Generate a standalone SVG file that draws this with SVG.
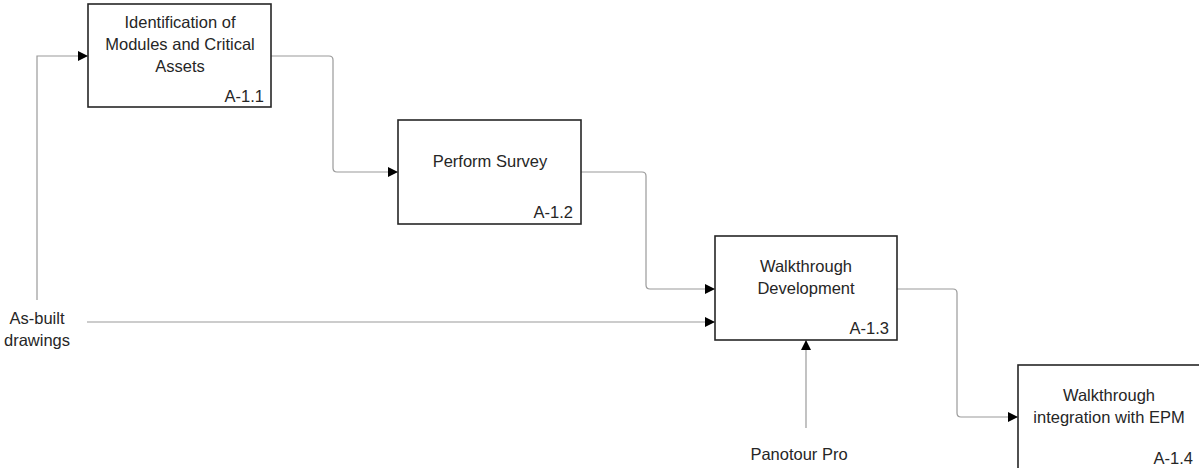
<svg xmlns="http://www.w3.org/2000/svg" width="1199" height="468" viewBox="0 0 1199 468">
<style>
.box{fill:#fff;stroke:#262626;stroke-width:1.6}
.t{font-family:"Liberation Sans",Arial,sans-serif;font-size:16.5px;fill:#262626;text-anchor:middle}
.id{font-family:"Liberation Sans",Arial,sans-serif;font-size:16.5px;fill:#262626;text-anchor:end}
.c{fill:none;stroke:#9a9a9a;stroke-width:1.2}
</style>
<defs>
<marker id="ah" viewBox="0 0 10 10" refX="10" refY="5" markerWidth="10" markerHeight="10" markerUnits="userSpaceOnUse" orient="auto">
<path d="M0,0 L10,5 L0,10 Z" fill="#000"/>
</marker>
</defs>
<rect width="1199" height="468" fill="#fff"/>
<g id="connectors">
<path class="c" d="M37,300 V56 H88" marker-end="url(#ah)"/>
<path class="c" d="M271,56 H329 Q333,56 333,60 V168 Q333,172 337,172 H398" marker-end="url(#ah)"/>
<path class="c" d="M581,172 H642 Q646,172 646,176 V285 Q646,289 650,289 H715" marker-end="url(#ah)"/>
<path class="c" d="M87,322 H715" marker-end="url(#ah)"/>
<path class="c" d="M806,428 V340" marker-end="url(#ah)"/>
<path class="c" d="M897,289 H953 Q957,289 957,293 V413 Q957,417 961,417 H1018" marker-end="url(#ah)"/>
</g>
<g id="node-a11">
<rect class="box" x="88" y="4" width="183" height="103"/>
<text class="t" x="180" y="28">Identification of</text>
<text class="t" x="180" y="50">Modules and Critical</text>
<text class="t" x="180" y="72">Assets</text>
<text class="id" x="264" y="102">A-1.1</text>
</g>
<g id="node-a12">
<rect class="box" x="398" y="120" width="183" height="104"/>
<text class="t" x="490" y="167">Perform Survey</text>
<text class="id" x="573" y="218">A-1.2</text>
</g>
<g id="node-a13">
<rect class="box" x="715" y="236" width="182" height="104"/>
<text class="t" x="806" y="272">Walkthrough</text>
<text class="t" x="806" y="294">Development</text>
<text class="id" x="889" y="334">A-1.3</text>
</g>
<g id="node-a14">
<rect class="box" x="1018" y="365" width="183" height="104"/>
<text class="t" x="1109" y="401">Walkthrough</text>
<text class="t" x="1109" y="423">integration with EPM</text>
<text class="id" x="1193" y="464">A-1.4</text>
</g>
<g id="label-asbuilt">
<text class="t" x="37" y="324">As-built</text>
<text class="t" x="37" y="346">drawings</text>
</g>
<g id="label-panotour">
<text class="t" x="799" y="460">Panotour Pro</text>
</g>
</svg>
